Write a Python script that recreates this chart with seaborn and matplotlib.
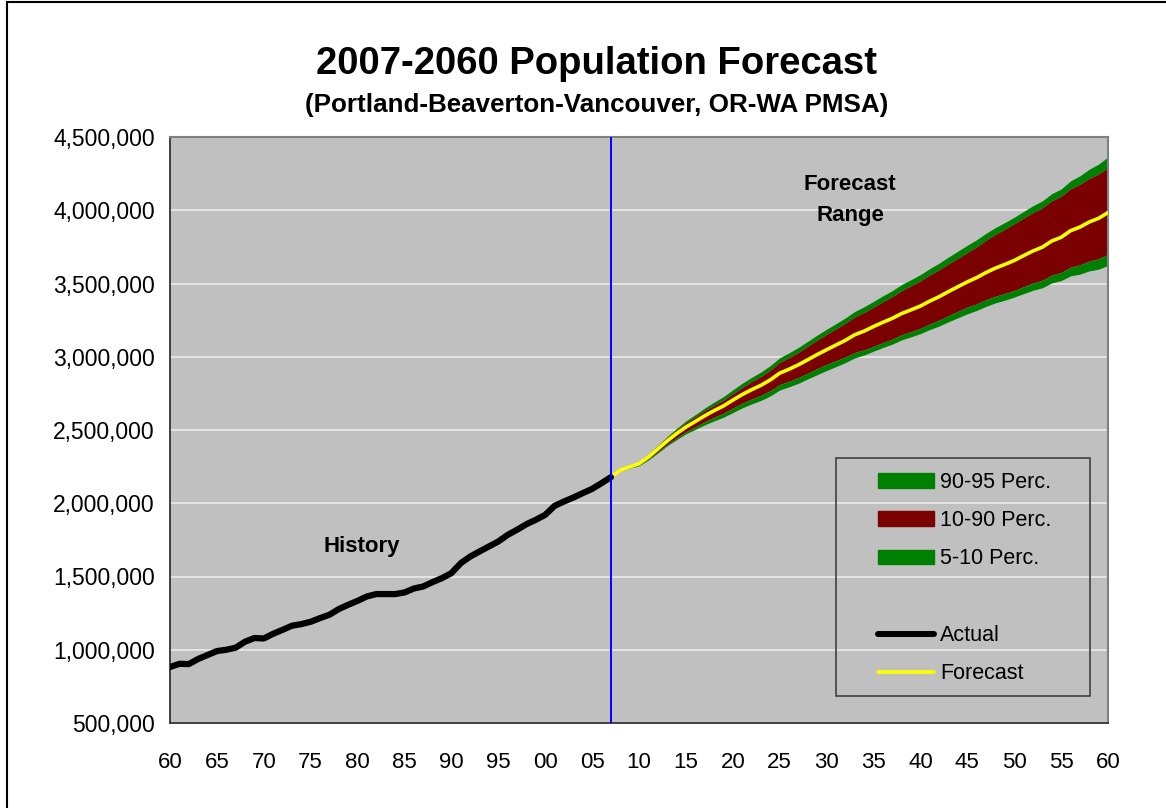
import matplotlib
matplotlib.use("Agg")
import matplotlib.pyplot as plt
from matplotlib.patches import Patch, Rectangle
from matplotlib.lines import Line2D
from matplotlib.ticker import FuncFormatter, MultipleLocator
import seaborn as sns
import pandas as pd

# colours (Excel 2003 style)
PLOT_BG = "#C0C0C0"
GREEN = "#008000"
DARK_RED = "#7B0000"
YELLOW = "#FFFF00"
BLUE = "#0000FF"
W, H = 1166, 808

# ---- data (thousands of people) ----
hist_years = list(range(1960, 2008))
actual = [882, 904, 902, 937, 964, 991, 1000, 1014, 1055, 1080,
          1077, 1109, 1136, 1164, 1175, 1191, 1216, 1239, 1278, 1307,
          1334, 1364, 1380, 1380, 1380, 1391, 1418, 1432, 1462, 1489,
          1523, 1591, 1636, 1671, 1705, 1739, 1784, 1819, 1857, 1887,
          1921, 1982, 2012, 2039, 2069, 2098, 2137, 2178]

fc_years = list(range(2007, 2061))
forecast = [2180, 2225, 2248, 2270, 2315, 2370, 2425, 2475, 2520, 2558,
            2597, 2632, 2664, 2704, 2742, 2775, 2805, 2842, 2888, 2915,
            2945, 2980, 3015, 3048, 3080, 3112, 3150, 3175, 3206, 3235,
            3262, 3295, 3320, 3346, 3380, 3410, 3445, 3478, 3511, 3540,
            3575, 3605, 3630, 3657, 3690, 3722, 3748, 3790, 3815, 3860,
            3885, 3920, 3945, 3984]
p95 = [2180, 2230, 2256, 2285, 2335, 2395, 2455, 2510, 2562, 2605,
       2650, 2690, 2728, 2774, 2819, 2859, 2896, 2940, 2993, 3027,
       3064, 3106, 3148, 3188, 3226, 3265, 3309, 3341, 3378, 3416,
       3451, 3493, 3526, 3561, 3602, 3639, 3681, 3721, 3761, 3799,
       3843, 3882, 3916, 3952, 3992, 4031, 4064, 4113, 4145, 4200,
       4235, 4280, 4315, 4364]
p90 = [2180, 2228, 2253, 2280, 2328, 2387, 2445, 2498, 2548, 2589,
       2631, 2668, 2703, 2746, 2790, 2829, 2865, 2908, 2960, 2994,
       3030, 3072, 3113, 3153, 3190, 3228, 3271, 3302, 3338, 3375,
       3410, 3451, 3484, 3518, 3558, 3593, 3634, 3672, 3711, 3750,
       3795, 3835, 3870, 3907, 3946, 3984, 4016, 4064, 4095, 4146,
       4176, 4217, 4247, 4292]
p10 = [2180, 2220, 2242, 2262, 2302, 2352, 2402, 2446, 2488, 2522,
       2556, 2587, 2614, 2650, 2683, 2711, 2737, 2769, 2810, 2833,
       2858, 2889, 2919, 2948, 2973, 2998, 3029, 3047, 3071, 3097,
       3120, 3150, 3171, 3194, 3224, 3250, 3281, 3310, 3339, 3361,
       3390, 3413, 3432, 3452, 3478, 3503, 3522, 3557, 3575, 3611,
       3627, 3653, 3669, 3699]
p5 = [2180, 2218, 2239, 2256, 2295, 2343, 2392, 2434, 2474, 2504,
      2535, 2562, 2587, 2619, 2651, 2678, 2702, 2733, 2773, 2795,
      2819, 2849, 2878, 2906, 2933, 2960, 2992, 3012, 3038, 3063,
      3086, 3115, 3136, 3158, 3186, 3210, 3239, 3266, 3293, 3316,
      3344, 3368, 3386, 3407, 3431, 3454, 3471, 3504, 3520, 3552,
      3564, 3586, 3598, 3624]

split_year = 2007
legend_labels = ["90-95 Perc.", "10-90 Perc.", "5-10 Perc.", "", "Actual", "Forecast"]

hist = pd.DataFrame({"year": hist_years, "pop": [v * 1000 for v in actual]})
fc = pd.DataFrame({"year": fc_years,
                   "mid": [v * 1000 for v in forecast],
                   "p95": [v * 1000 for v in p95],
                   "p90": [v * 1000 for v in p90],
                   "p10": [v * 1000 for v in p10],
                   "p5": [v * 1000 for v in p5]})

sns.set_style("white")
plt.rcParams["font.family"] = ["Liberation Sans", "DejaVu Sans"]
plt.rcParams["text.color"] = "black"
plt.rcParams["axes.labelcolor"] = "black"

fig = plt.figure(figsize=(W / 100, H / 100), dpi=100)
ax = fig.add_axes([170 / W, 1 - 723 / H, (1108 - 170) / W, (723 - 137) / H])
ax.set_facecolor(PLOT_BG)

# bands
ax.fill_between(fc["year"], fc["p90"], fc["p95"], color=GREEN, lw=0, zorder=2)
ax.fill_between(fc["year"], fc["p10"], fc["p90"], color=DARK_RED, lw=0, zorder=2)
ax.fill_between(fc["year"], fc["p5"], fc["p10"], color=GREEN, lw=0, zorder=2)

sns.lineplot(data=fc, x="year", y="mid", color=YELLOW, lw=2.6, ax=ax, zorder=3, legend=False)
sns.lineplot(data=hist, x="year", y="pop", color="black", lw=4.5, ax=ax, zorder=3, legend=False)
ax.axvline(split_year, color=BLUE, lw=1.4, zorder=4)

ax.set_xlim(1960, 2060)
ax.set_ylim(500000, 4500000)
ax.xaxis.set_major_locator(MultipleLocator(5))
ax.yaxis.set_major_locator(MultipleLocator(500000))
ax.xaxis.set_major_formatter(FuncFormatter(lambda v, p: f"{int(round(v)) % 100:02d}"))
ax.yaxis.set_major_formatter(FuncFormatter(lambda v, p: f"{int(v):,}"))
ax.grid(axis="y", color="#EEEEEE", lw=1.1, zorder=1)
ax.set_axisbelow(True)
ax.set_xlabel("")
ax.set_ylabel("")
ax.tick_params(axis="both", direction="out", length=6, width=1.1, color="#222222",
               labelcolor="black")
ax.tick_params(axis="x", pad=15, labelsize=16)
ax.tick_params(axis="y", pad=5, labelsize=16.5)
for side in ["top", "right"]:
    ax.spines[side].set_color("#808080")
    ax.spines[side].set_linewidth(1.5)
for side in ["left", "bottom"]:
    ax.spines[side].set_color("#333333")
    ax.spines[side].set_linewidth(1.3)

ax.text(0.2044, 0.302, "History", transform=ax.transAxes, ha="center", va="center",
        fontsize=16, fontweight="bold", color="black")
ax.text(0.725, 0.892, "Forecast\nRange", transform=ax.transAxes, ha="center", va="center",
        fontsize=16, fontweight="bold", linespacing=1.6, color="black")

fig.text(597 / W, 1 - 64 / H, "2007-2060 Population Forecast", ha="center", va="center",
         fontsize=27.5, fontweight="bold", color="black")
fig.text(597 / W, 1 - 105 / H, "(Portland-Beaverton-Vancouver, OR-WA PMSA)", ha="center",
         va="center", fontsize=18.7, fontweight="bold", color="black")

# legend
handles = [Patch(color=GREEN), Patch(color=DARK_RED), Patch(color=GREEN),
           Line2D([], [], color="none"),
           Line2D([], [], color="black", lw=4.3),
           Line2D([], [], color=YELLOW, lw=2.6)]
fig.legend(handles, legend_labels, loc="upper left",
           bbox_to_anchor=(878 / W, 1 - 472 / H), frameon=False, fontsize=15.5,
           handlelength=2.6, handleheight=0.65, handletextpad=0.3,
           labelspacing=0.8, borderpad=0, borderaxespad=0, labelcolor="black")
fig.add_artist(Rectangle((836 / W, 1 - 696 / H), (1090 - 836) / W, (696 - 458) / H,
                         transform=fig.transFigure, fill=False, edgecolor="#404040", lw=1.2))

# outer chart border
fig.add_artist(Rectangle((7 / W, -0.01), 1.0, 1 - 2 / H + 0.01, transform=fig.transFigure,
                         fill=False, edgecolor="black", lw=1.5))

fig.savefig("out.png", dpi=100)
